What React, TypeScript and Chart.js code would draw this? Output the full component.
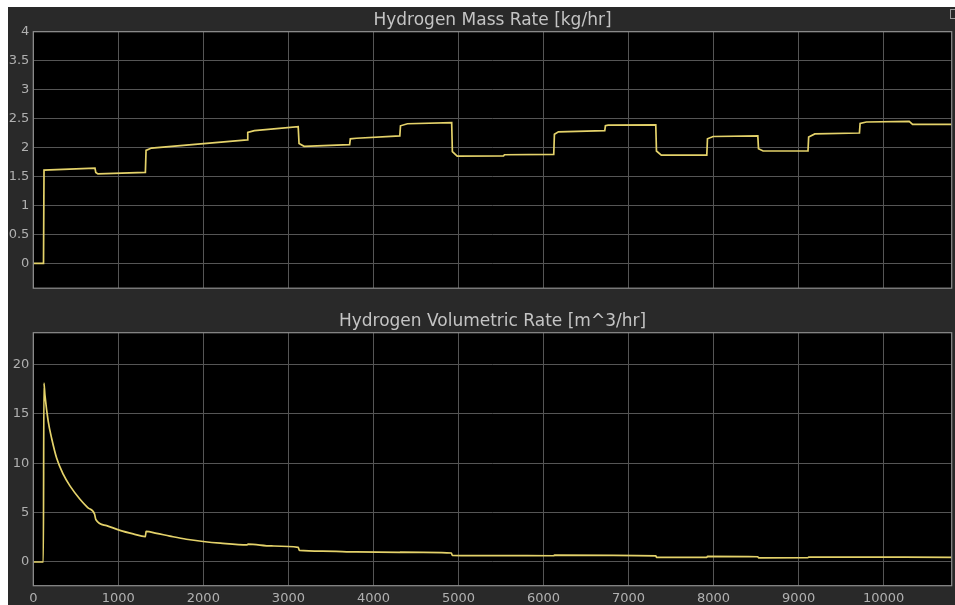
import React, { useEffect, useRef } from "react";
import { Chart, registerables } from "chart.js";

Chart.register(...registerables);

// ---- data ----
const MASS_TITLE = "Hydrogen Mass Rate [kg/hr]";
const VOL_TITLE = "Hydrogen Volumetric Rate [m^3/hr]";

const X_TICKS = [0, 1000, 2000, 3000, 4000, 5000, 6000, 7000, 8000, 9000, 10000];
const MASS_TICKS = [0, 0.5, 1, 1.5, 2, 2.5, 3, 3.5, 4];
const VOL_TICKS = [0, 5, 10, 15, 20];

const MASS_T = [
  0, 120, 126, 725, 735, 760, 1318, 1326, 1390, 2515, 2522, 2600, 3115, 3125, 3185,
  3720, 3728, 3800, 4310, 4318, 4400, 4920, 4928, 4985, 5530, 5540, 6120, 6128, 6175,
  6720, 6728, 6760, 7320, 7328, 7385, 7920, 7928, 7995, 8520, 8528, 8582, 9110, 9118,
  9190, 9715, 9723, 9797, 10300, 10340, 10800,
];
const MASS_V = [
  0, 0, 1.61, 1.645, 1.57, 1.545, 1.57, 1.95, 1.99, 2.13, 2.26, 2.29, 2.36, 2.07, 2.02,
  2.05, 2.15, 2.16, 2.2, 2.375, 2.41, 2.43, 1.93, 1.85, 1.855, 1.875, 1.88, 2.23, 2.27,
  2.29, 2.375, 2.385, 2.39, 1.94, 1.87, 1.87, 2.15, 2.19, 2.2, 1.98, 1.94, 1.94, 2.18,
  2.235, 2.25, 2.415, 2.44, 2.45, 2.4, 2.4,
];

const VOL_T = [
  0, 118, 125, 137, 176, 216, 275, 353, 431, 549, 640, 720, 735, 862, 1019, 1175, 1318,
  1326, 1450, 1606, 1800, 1998, 2200, 2515, 2525, 2800, 3115, 3130, 3400, 3800, 4309,
  4315, 4916, 4928, 5490, 6120, 6128, 7320, 7330, 7920, 7928, 8520, 8528, 9110, 9118,
  10800,
];
const VOL_V = [
  0, 0, 18.1, 16.9, 14.2, 12.5, 10.5, 8.86, 7.7, 6.35, 5.5, 4.85, 4.3, 3.68, 3.2, 2.84,
  2.57, 3.1, 2.9, 2.62, 2.3, 2.07, 1.9, 1.73, 1.8, 1.62, 1.47, 1.17, 1.1, 1.02, 0.98,
  1.0, 0.91, 0.67, 0.64, 0.63, 0.7, 0.62, 0.47, 0.47, 0.56, 0.53, 0.42, 0.43, 0.5, 0.47,
];

// ---- style ----
const FONT = "'DejaVu Sans', 'Liberation Sans', Arial, sans-serif";
const PANEL_BG = "#292929";
const GRID = "#555555";
const FRAME = "#8f8f8f";
const TICK_COLOR = "#b0b0b0";
const TITLE_COLOR = "#c4c4c4";
const LINE_COLOR = "#e4d26a";

const plotFrame = {
  id: "plotFrame",
  beforeDraw(chart: any) {
    const { ctx, chartArea: a } = chart;
    ctx.save();
    ctx.fillStyle = "#000";
    ctx.fillRect(a.left, a.top, a.right - a.left, a.bottom - a.top);
    ctx.restore();
  },
  afterDraw(chart: any) {
    const { ctx, chartArea: a } = chart;
    ctx.save();
    ctx.strokeStyle = FRAME;
    ctx.lineWidth = 1.2;
    ctx.strokeRect(a.left, a.top, a.right - a.left, a.bottom - a.top);
    ctx.restore();
  },
};

type Cfg = {
  title: string;
  xs: number[];
  ys: number[];
  yTicks: number[];
  yMin: number;
  yMax: number;
  showX: boolean;
  smooth: boolean;
  titlePad: { top: number; bottom: number };
  xHeight: number;
};

function makeChart(canvas: HTMLCanvasElement, c: Cfg) {
  const data = c.xs.map((x, i) => ({ x, y: c.ys[i] }));
  return new Chart(canvas, {
    type: "line",
    data: {
      datasets: [
        {
          data,
          borderColor: LINE_COLOR,
          borderWidth: 1.7,
          pointRadius: 0,
          tension: 0,
          cubicInterpolationMode: c.smooth ? "monotone" : "default",
          fill: false,
        },
      ],
    },
    plugins: [plotFrame],
    options: {
      animation: false,
      responsive: false,
      devicePixelRatio: 1,
      layout: { padding: { left: 0, right: 3.3, top: 0, bottom: 0 } },
      plugins: {
        legend: { display: false },
        tooltip: { enabled: false },
        title: {
          display: true,
          text: c.title,
          fullSize: false,
          color: TITLE_COLOR,
          font: { family: FONT, size: 17, weight: "normal" },
          padding: c.titlePad,
        },
      },
      scales: {
        x: {
          type: "linear",
          min: 0,
          max: 10800,
          afterBuildTicks: (s: any) => {
            s.ticks = X_TICKS.map((v) => ({ value: v }));
          },
          afterFit: (s: any) => {
            s.height = c.xHeight;
          },
          grid: { color: GRID, lineWidth: 1, drawTicks: false },
          border: { display: false },
          ticks: {
            display: c.showX,
            color: TICK_COLOR,
            padding: 5,
            maxRotation: 0,
            autoSkip: false,
            font: { family: FONT, size: 13 },
            callback: (v: any) => String(v),
          },
        },
        y: {
          type: "linear",
          min: c.yMin,
          max: c.yMax,
          afterBuildTicks: (s: any) => {
            s.ticks = c.yTicks.map((v) => ({ value: v }));
          },
          afterFit: (s: any) => {
            s.width = 25.3;
          },
          grid: { color: GRID, lineWidth: 1, drawTicks: false },
          border: { display: false },
          ticks: {
            color: TICK_COLOR,
            padding: 4,
            autoSkip: false,
            font: { family: FONT, size: 13 },
            callback: (v: any) => String(v),
          },
        },
      },
    },
  } as any);
}

export default function App() {
  const topRef = useRef<HTMLCanvasElement>(null);
  const botRef = useRef<HTMLCanvasElement>(null);

  useEffect(() => {
    const c1 = makeChart(topRef.current!, {
      title: MASS_TITLE,
      xs: MASS_T,
      ys: MASS_V,
      yTicks: MASS_TICKS,
      yMin: -0.43,
      yMax: 4,
      showX: false,
      smooth: false,
      titlePad: { top: 3.3, bottom: 1.0 },
      xHeight: 5.7,
    });
    const c2 = makeChart(botRef.current!, {
      title: VOL_TITLE,
      xs: VOL_T,
      ys: VOL_V,
      yTicks: VOL_TICKS,
      yMin: -2.4,
      yMax: 23.2,
      showX: true,
      smooth: true,
      titlePad: { top: 11.5, bottom: 0.8 },
      xHeight: 19.3,
    });
    return () => {
      c1.destroy();
      c2.destroy();
    };
  }, []);

  return (
    <div
      style={{
        position: "absolute",
        left: 0,
        top: 0,
        width: 955,
        height: 605,
        background: "#fff",
        overflow: "hidden",
      }}
    >
      <div
        style={{
          position: "absolute",
          left: 8,
          top: 7,
          width: 947,
          height: 598,
          background: PANEL_BG,
        }}
      />
      <div
        style={{
          position: "absolute",
          left: 950,
          top: 9,
          width: 5,
          height: 8,
          border: "1px solid #9a9a9a",
          borderRight: "none",
        }}
      />
      <canvas
        ref={topRef}
        width={947}
        height={293}
        style={{ position: "absolute", left: 8, top: 7, width: 947, height: 293 }}
      />
      <canvas
        ref={botRef}
        width={947}
        height={305}
        style={{ position: "absolute", left: 8, top: 300, width: 947, height: 305 }}
      />
    </div>
  );
}
